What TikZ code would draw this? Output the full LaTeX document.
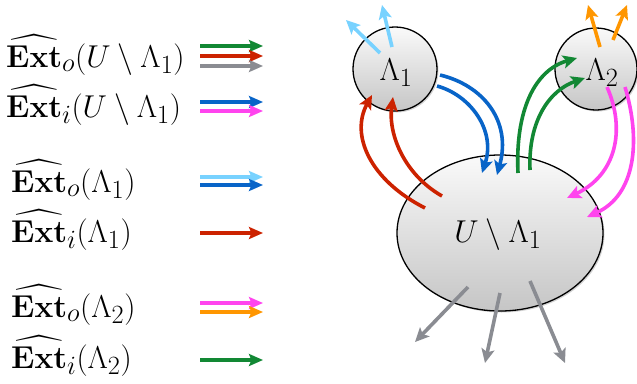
\documentclass[tikz,border=0pt]{standalone}
\usepackage{amsmath}
\usetikzlibrary{arrows.meta,shadows,shapes.geometric}
\definecolor{cgreen}{RGB}{18,136,52}
\definecolor{cred}{RGB}{204,34,0}
\definecolor{cgray}{RGB}{138,140,146}
\definecolor{cblue}{RGB}{8,100,200}
\definecolor{cmag}{RGB}{255,68,238}
\definecolor{clblue}{RGB}{120,210,255}
\definecolor{corange}{RGB}{255,150,0}
\newcommand\mylbl[1]{\scalebox{1.27}{$#1$}}
\tikzset{
  region/.style={draw=black, line width=1.3pt, top color=white!96!gray, bottom color=gray!45,
     drop shadow={shadow xshift=1.5pt, shadow yshift=-1.5pt, opacity=0.35}},
  flow/.style={line width=3.6pt, -{Stealth[length=14pt,width=13pt,inset=3pt]}},
  lflow/.style={line width=3.2pt, -{Stealth[length=14pt,width=12pt,inset=2.5pt]}},
  lbl/.style={font=\fontsize{24.88}{30}\selectfont, inner sep=0pt, anchor=base west},
  clbl/.style={font=\fontsize{24.88}{30}\selectfont, inner sep=0pt, anchor=base},
}
\begin{document}
\begin{tikzpicture}[x=1pt,y=-1pt]
\useasboundingbox (0,0) rectangle (637,383);
% regions
\node[region, ellipse, minimum width=206, minimum height=156, inner sep=0pt] (U) at (500,233) {};
\node[region, circle, minimum size=84, inner sep=0pt] (L1) at (395,69) {};
\node[region, circle, minimum size=82, inner sep=0pt] (L2) at (596,69) {};
\node[clbl] (UL) at (498,242) {\mylbl{U\setminus\Lambda_1}};
\node[clbl] (L1l) at (396,80) {\mylbl{\Lambda_1}};
\node[clbl] (L2l) at (602,80) {\mylbl{\Lambda_2}};
% coordinates
\coordinate (lb1s) at (380,53); \coordinate (lb1e) at (346,20);
\coordinate (lb2s) at (392,47); \coordinate (lb2e) at (382,5);
\coordinate (or1s) at (600,47); \coordinate (or1e) at (588,5);
\coordinate (or2s) at (613,40); \coordinate (or2e) at (627,5);
\coordinate (rd1s) at (425,208); \coordinate (rd1e) at (372,95);
\coordinate (rd2s) at (442,196); \coordinate (rd2e) at (393,97);
\coordinate (bl1s) at (440,75); \coordinate (bl1e) at (497,175);
\coordinate (bl2s) at (437,86); \coordinate (bl2e) at (482,173);
\coordinate (gr1s) at (518,173); \coordinate (gr1e) at (577,58);
\coordinate (gr2s) at (530,170); \coordinate (gr2e) at (585,78);
\coordinate (mg1s) at (607,87); \coordinate (mg1e) at (567,198);
\coordinate (mg2s) at (625,87); \coordinate (mg2e) at (587,217);
\coordinate (gy1s) at (468,287); \coordinate (gy1e) at (415,342);
\coordinate (gy2s) at (500,293); \coordinate (gy2e) at (485,363);
\coordinate (gy3s) at (530,281); \coordinate (gy3e) at (565,363);
% flows
\draw[flow, clblue] (lb1s) -- (lb1e);
\draw[flow, clblue] (lb2s) -- (lb2e);
\draw[flow, corange] (or1s) -- (or1e);
\draw[flow, corange] (or2s) -- (or2e);
\draw[flow, cred] (rd1s) .. controls (370,180) and (350,135) .. (rd1e);
\draw[flow, cred] (rd2s) .. controls (405,175) and (388,135) .. (rd2e);
\draw[flow, cblue] (bl1s) .. controls (482,85) and (512,120) .. (bl1e);
\draw[flow, cblue] (bl2s) .. controls (470,95) and (496,130) .. (bl2e);
\draw[flow, cgreen] (gr1s) .. controls (515,110) and (535,70) .. (gr1e);
\draw[flow, cgreen] (gr2s) .. controls (528,120) and (550,90) .. (gr2e);
\draw[flow, cmag] (mg1s) .. controls (626,130) and (616,175) .. (mg1e);
\draw[flow, cmag] (mg2s) .. controls (641,140) and (636,195) .. (mg2e);
\draw[flow, cgray] (gy1s) -- (gy1e);
\draw[flow, cgray] (gy2s) -- (gy2e);
\draw[flow, cgray] (gy3s) -- (gy3e);
% legend
\node[lbl] (t1) at (6,67) {\mylbl{\widehat{\mathbf{Ext}}_o(U\setminus\Lambda_1)}};
\node[lbl] (t2) at (6,117) {\mylbl{\widehat{\mathbf{Ext}}_i(U\setminus\Lambda_1)}};
\node[lbl] (t3) at (11,192) {\mylbl{\widehat{\mathbf{Ext}}_o(\Lambda_1)}};
\node[lbl] (t4) at (11,242) {\mylbl{\widehat{\mathbf{Ext}}_i(\Lambda_1)}};
\node[lbl] (t5) at (11,317) {\mylbl{\widehat{\mathbf{Ext}}_o(\Lambda_2)}};
\node[lbl] (t6) at (11,368) {\mylbl{\widehat{\mathbf{Ext}}_i(\Lambda_2)}};
\foreach \y/\c [count=\i] in {46/cgreen,56/cred,66/cgray,102/cblue,111/cmag,177/clblue,185/cblue,233/cred,303/cmag,312/corange,360/cgreen}{
  \coordinate (ls\i) at (200,\y); \coordinate (le\i) at (263,\y);
  \draw[lflow, \c] (ls\i) -- (le\i);
}
\end{tikzpicture}
\end{document}
